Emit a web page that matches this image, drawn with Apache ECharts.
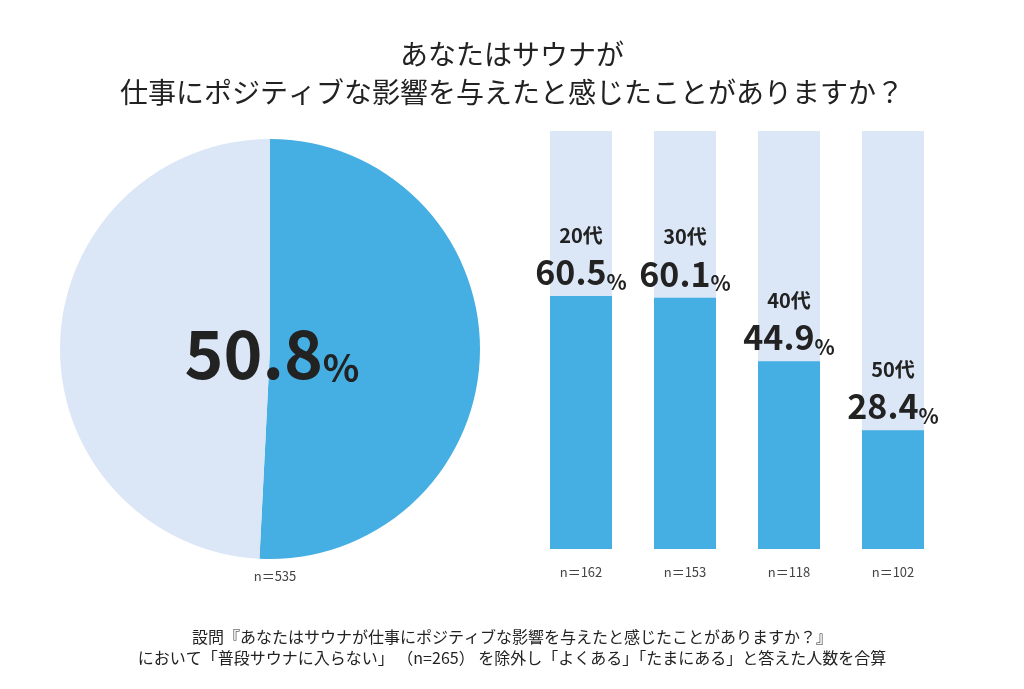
<!DOCTYPE html>
<html>
<head>
<meta charset="utf-8">
<script src="https://cdn.jsdelivr.net/npm/echarts@6/dist/echarts.min.js"></script>
<style>
  html, body { margin: 0; padding: 0; background: #fff; }
  #chart { width: 1024px; height: 689px; }
</style>
</head>
<body>
<div id="chart"></div>
<script>
// 全体（円グラフ）
const totalValue = 50.8
const totalN = 535

// 年代別（棒グラフ）
const ageGroups = ['20代', '30代', '40代', '50代']
const ageValues = [60.5, 60.1, 44.9, 28.4]
const ageN = [162, 153, 118, 102]

const titleLines = [
  'あなたはサウナが',
  '仕事にポジティブな影響を与えたと感じたことがありますか？'
]
const noteLines = [
  '設問『あなたはサウナが仕事にポジティブな影響を与えたと感じたことがありますか？』',
  'において「普段サウナに入らない」 （n=265） を除外し「よくある」「たまにある」と答えた人数を合算'
]

const blue = '#45aee3'
const pale = '#dbe6f6'
const font = '"Noto Sans CJK JP", "Noto Sans", sans-serif'

const chart = echarts.init(document.getElementById('chart'))

const option = {
  backgroundColor: '#fff',
  textStyle: { fontFamily: font },
  title: [
    {
      text: titleLines.join('\n'),
      left: 'center',
      top: 30,
      textStyle: { fontSize: 28, fontWeight: 'normal', color: '#222', lineHeight: 38, fontFamily: font }
    },
    {
      text: 'n＝' + totalN,
      left: 270,
      textAlign: 'center',
      top: 565,
      textStyle: { fontSize: 13, fontWeight: 'normal', color: '#444', fontFamily: font }
    },
    {
      text: noteLines.join('\n'),
      left: 'center',
      top: 621,
      textStyle: { fontSize: 16, fontWeight: 'normal', color: '#222', lineHeight: 21, fontFamily: font }
    }
  ],
  grid: { left: 529, width: 416, top: 131, bottom: 140 },
  xAxis: {
    type: 'category',
    data: ageGroups,
    axisLine: { show: false },
    axisTick: { show: false },
    axisLabel: {
      margin: 17,
      fontSize: 13,
      color: '#444',
      formatter: (v, i) => 'n＝' + ageN[i]
    }
  },
  yAxis: { type: 'value', min: 0, max: 100, show: false },
  series: [
    {
      type: 'bar',
      data: ageValues.map(() => 100),
      barWidth: 62,
      barGap: '-100%',
      itemStyle: { color: pale },
      silent: true,
      z: 1
    },
    {
      type: 'bar',
      data: ageValues,
      barWidth: 62,
      itemStyle: { color: blue },
      z: 2,
      label: {
        show: true,
        position: 'top',
        distance: 4,
        formatter: p => '{g|' + p.name + '}\n{v|' + p.value.toFixed(1) + '}{p|%}',
        rich: {
          g: { fontSize: 20, fontWeight: 'bold', color: '#222', lineHeight: 34, align: 'center', fontFamily: font },
          v: { fontSize: 34, fontWeight: 'bold', color: '#222', lineHeight: 40, fontFamily: font },
          p: { fontSize: 21, fontWeight: 'bold', color: '#222', lineHeight: 40, verticalAlign: 'bottom', fontFamily: font }
        }
      }
    },
    {
      type: 'pie',
      center: [270, 349],
      radius: [0, 210],
      startAngle: 90,
      clockwise: true,
      silent: true,
      label: { show: false },
      labelLine: { show: false },
      data: [
        { value: totalValue, itemStyle: { color: blue } },
        { value: 100 - totalValue, itemStyle: { color: pale } }
      ]
    },
    {
      type: 'pie',
      center: [272, 354],
      radius: [0, 1],
      silent: true,
      itemStyle: { color: 'transparent' },
      label: {
        show: true,
        position: 'center',
        formatter: '{v|' + totalValue.toFixed(1) + '}{p|%}',
        rich: {
          v: { fontSize: 66, fontWeight: 'bold', color: '#222', fontFamily: font },
          p: { fontSize: 38, fontWeight: 'bold', color: '#222', verticalAlign: 'bottom', fontFamily: font }
        }
      },
      labelLine: { show: false },
      data: [{ value: 1 }]
    }
  ]
}

chart.setOption(option)
window.addEventListener('resize', () => chart.resize())
</script>
</body>
</html>
